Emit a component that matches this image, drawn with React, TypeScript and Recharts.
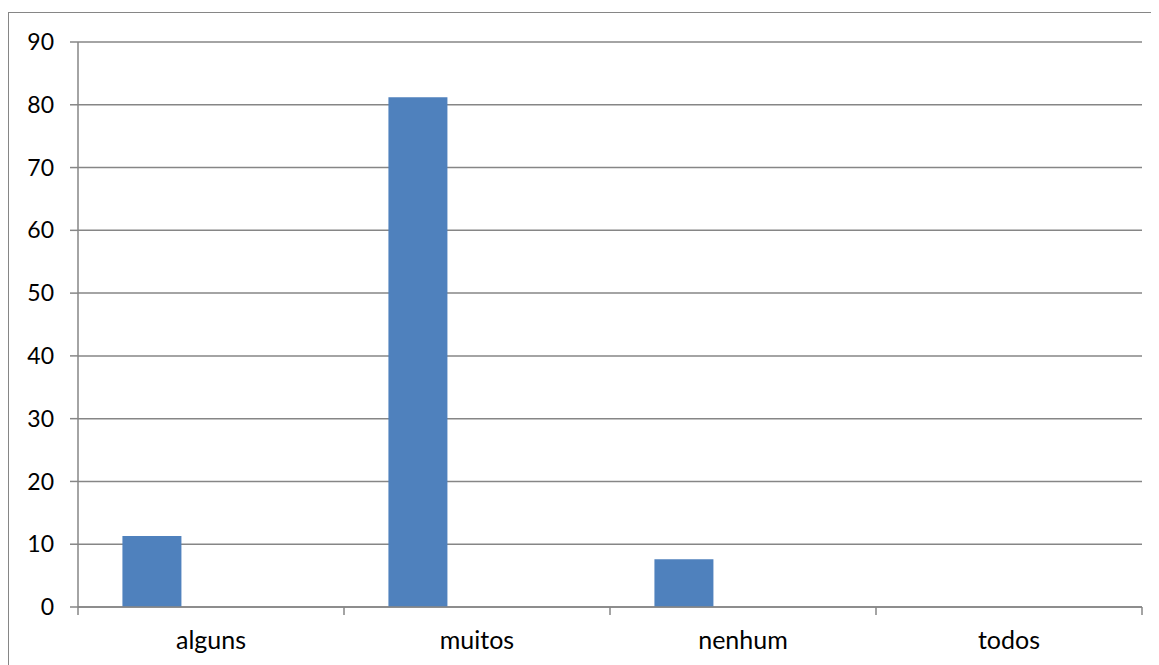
import { BarChart, Bar, XAxis, YAxis, CartesianGrid } from 'recharts'

const categories = ['alguns', 'muitos', 'nenhum', 'todos']
const seriesA = [11.3, 81.2, 7.6, 0]
const yTicks = [0, 10, 20, 30, 40, 50, 60, 70, 80, 90]

const data = categories.map((name, i) => ({ name, a: seriesA[i], b: null, c: null }))

const FONT = 'Lato, "Open Sans", "Liberation Sans", sans-serif'
const AXIS = '#868686'

// category label in the middle, tick marks on the band edges
function CategoryTick(props: any) {
  const { x, y, payload, index } = props
  const band = 1064 / categories.length
  const left = x - band / 2
  const right = x + band / 2
  return (
    <g>
      <line x1={left} y1={y - 8} x2={left} y2={y} stroke={AXIS} strokeWidth={1.5} />
      {index === categories.length - 1 && (
        <line x1={right} y1={y - 8} x2={right} y2={y} stroke={AXIS} strokeWidth={1.5} />
      )}
      <text x={x} y={y + 34} textAnchor="middle" fill="#000" fontSize={25} fontFamily={FONT}>
        {payload.value}
      </text>
    </g>
  )
}

export default function App() {
  return (
    <div
      style={{
        marginTop: 4,
        width: 1150,
        height: 652,
        borderTop: '1px solid #868686',
        borderLeft: '1px solid #868686',
        background: '#fff',
      }}
    >
      <BarChart
        width={1149}
        height={651}
        data={data}
        margin={{ top: 29, right: 16, left: 0, bottom: 0 }}
        barCategoryGap="16.7%"
        barGap={0}
      >
        <CartesianGrid vertical={false} stroke={AXIS} strokeWidth={1.5} />
        <XAxis
          dataKey="name"
          height={57}
          axisLine={{ stroke: AXIS, strokeWidth: 1.5 }}
          tickLine={false}
          tick={<CategoryTick />}
          interval={0}
        />
        <YAxis
          width={69}
          domain={[0, 90]}
          ticks={yTicks}
          interval={0}
          axisLine={{ stroke: AXIS, strokeWidth: 1.5 }}
          tickLine={{ stroke: AXIS, strokeWidth: 1.5 }}
          tickSize={8}
          tickMargin={16}
          tick={{ fill: '#000', fontSize: 23, fontFamily: FONT }}
        />
        <Bar dataKey="a" fill="#4F81BD" isAnimationActive={false} />
        <Bar dataKey="b" fill="#C0504D" isAnimationActive={false} />
        <Bar dataKey="c" fill="#9BBB59" isAnimationActive={false} />
      </BarChart>
    </div>
  )
}
